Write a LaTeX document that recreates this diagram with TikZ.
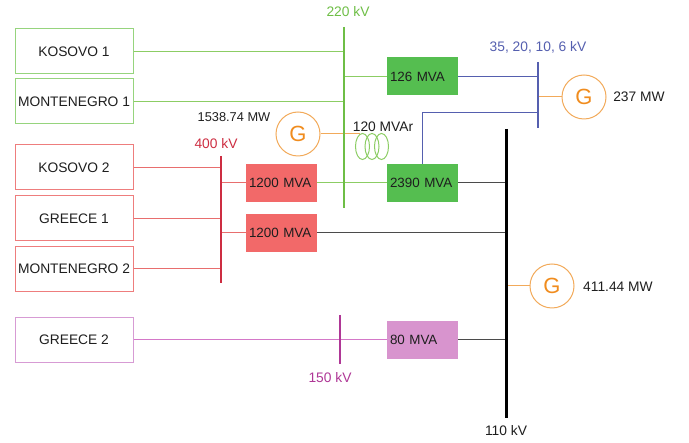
\documentclass[tikz,border=0pt]{standalone}
\usepackage{fontspec}
\setmainfont{Liberation Sans}
\definecolor{gline}{RGB}{140,205,100}
\definecolor{gbus}{RGB}{110,190,70}
\definecolor{gfill}{RGB}{85,190,80}
\definecolor{gbord}{RGB}{150,212,125}
\definecolor{rline}{RGB}{232,110,110}
\definecolor{rbus}{RGB}{205,45,65}
\definecolor{rfill}{RGB}{242,105,105}
\definecolor{rbord}{RGB}{238,125,125}
\definecolor{pline}{RGB}{212,120,200}
\definecolor{pbus}{RGB}{175,55,150}
\definecolor{pfill}{RGB}{216,148,206}
\definecolor{pbord}{RGB}{215,155,212}
\definecolor{bline}{RGB}{85,95,175}
\definecolor{oline}{RGB}{242,170,90}
\definecolor{otext}{RGB}{240,140,30}
\definecolor{dline}{RGB}{75,75,75}
\definecolor{txt}{RGB}{30,30,30}
\tikzset{
  lbox/.style={draw=#1, line width=1pt, minimum width=118pt, minimum height=45pt, inner sep=0pt, text=txt, font=\fontsize{13.8}{16}\selectfont},
  tbox/.style={fill=#1, draw=none, minimum height=38pt, text width=65pt, inner xsep=3pt, inner ysep=0pt, align=left, text=txt, font=\fontsize{13.4}{16}\selectfont},
  gen/.style={circle, draw=oline, line width=1pt, minimum size=44pt, inner sep=0pt, text=otext, font=\fontsize{22}{24}\selectfont},
  lab/.style={text=txt, font=\fontsize{13.8}{16}\selectfont, inner sep=0pt},
  thin/.style={line width=1pt},
  bus/.style={line width=2.6pt},
}
\begin{document}
\begin{tikzpicture}[x=1pt,y=-1pt]
\useasboundingbox (0,0) rectangle (689,443);
% boxes
\node[lbox=gbord] (k1) at (74,51.5) {KOSOVO 1};
\node[lbox=gbord] (m1) at (74,101.5) {MONTENEGRO 1};
\node[lbox=rbord] (k2) at (74,167.5) {KOSOVO 2};
\node[lbox=rbord] (gr1) at (74,218.5) {GREECE 1};
\node[lbox=rbord] (m2) at (74,269) {MONTENEGRO 2};
\node[lbox=pbord] (gr2) at (74,340) {GREECE 2};
\node[tbox=rfill] (r1) at (281.5,183) {1200 MVA};
\node[tbox=rfill] (r2) at (281.5,233) {1200 MVA};
\node[tbox=gfill] (t126) at (422.5,76.5) {126 MVA};
\node[tbox=gfill] (t2390) at (422.5,183) {2390 MVA};
\node[tbox=pfill] (t80) at (422.5,340) {80 MVA};
\node[gen] (G1) at (298,134) {G};
\node[gen] (G2) at (584,97) {G};
\node[gen] (G3) at (552,286) {G};
% bus coordinates
\coordinate (b220t) at (344,27);  \coordinate (b220b) at (344,208);
\coordinate (b400t) at (221,156); \coordinate (b400b) at (221,283);
\coordinate (blvt) at (538,62);   \coordinate (blvb) at (538,128);
\coordinate (b110t) at (506,129); \coordinate (b110b) at (506,418);
\coordinate (b150t) at (340,315); \coordinate (b150b) at (340,364);
\coordinate (coil) at (360,134);
% connectors
\draw[thin, gline] (k1.east) -- (k1.east -| b220t);
\draw[thin, gline] (m1.east) -- (m1.east -| b220t);
\draw[thin, gline] (t126.west -| b220t) -- (t126.west);
\draw[thin, gline] (r1.east) -- (t2390.west);
\draw[thin, rline] (k2.east) -- (k2.east -| b400t);
\draw[thin, rline] (gr1.east) -- (gr1.east -| b400t);
\draw[thin, rline] (m2.east) -- (m2.east -| b400t);
\draw[thin, rline] (r1.west -| b400t) -- (r1.west);
\draw[thin, rline] (r2.west -| b400t) -- (r2.west);
\draw[thin, dline] (r2.east) -- (r2.east -| b110t);
\draw[thin, dline] (t2390.east) -- (t2390.east -| b110t);
\draw[thin, dline] (t80.east) -- (t80.east -| b110t);
\draw[thin, pline] (gr2.east) -- (t80.west);
\draw[thin, bline] (t126.east) -- (t126.east -| blvt);
\draw[thin, bline] (blvt |- 0,113) -- (422,113) -- (422,164);
\draw[thin, oline] (G2.west -| blvt) -- (G2.west);
\draw[thin, oline] (G3.west -| b110t) -- (G3.west);
\draw[thin, oline] (G1.east) -- (coil);
% reactor
\draw[thin, gline] (362.5,146.5) ellipse (7pt and 13pt);
\draw[thin, gline] (372,146.5) ellipse (7pt and 13pt);
\draw[thin, gline] (381.5,146.5) ellipse (7pt and 13pt);
% buses
\draw[bus, gbus] (b220t) -- (b220b);
\draw[bus, rbus] (b400t) -- (b400b);
\draw[bus, bline] (blvt) -- (blvb);
\draw[line width=3pt, black] (b110t) -- (b110b);
\draw[bus, pbus] (b150t) -- (b150b);
% labels
\node[lab, text=gbus] (l220) at (348,12) {220 kV};
\node[lab, text=rbus] (l400) at (216,144) {400 kV};
\node[lab, text=bline] (llv) at (538,47) {35, 20, 10, 6 kV};
\node[lab, text=pbus] (l150) at (330,378) {150 kV};
\node[lab] (l110) at (506,431) {110 kV};
\node[lab, font=\fontsize{12.8}{15}\selectfont] (lg1) at (234,117) {1538.74 MW};
\node[lab] (lr) at (383,127) {120 MVAr};
\node[lab] (lg2) at (639,97) {237 MW};
\node[lab] (lg3) at (618,287) {411.44 MW};
\end{tikzpicture}
\end{document}
